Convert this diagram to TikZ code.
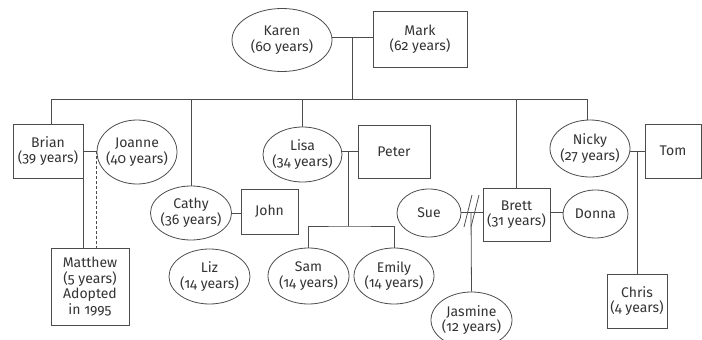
\documentclass[tikz,border=0pt]{standalone}
\usepackage{fontspec}
\setmainfont{Fira Sans}[Numbers=OldStyle]
\usetikzlibrary{shapes.geometric}
\definecolor{lc}{gray}{0.3}
\tikzset{
  person/.style={draw=lc, line width=0.8pt, align=center, text=black!80,
    font=\fontsize{14}{15.5}\selectfont},
  fem/.style={person, ellipse, inner xsep=-15pt, inner ysep=-6pt},
  male/.style={person, rectangle, inner sep=0pt},
  conn/.style={draw=lc, line width=0.8pt},
  adopt/.style={conn, dash pattern=on 3pt off 2pt}
}
\begin{document}
\begin{tikzpicture}[x=1pt,y=-1pt]
\useasboundingbox (0,0) rectangle (702,340);
\clip (0,0) rectangle (702,340);
% nodes
\node[fem,  minimum width=100pt, minimum height=63pt] (Karen)   at (282,40)    {Karen\\(60 years)};
\node[male, minimum width=94pt,  minimum height=56pt] (Mark)    at (420,39)    {Mark\\(62 years)};
\node[male, minimum width=70pt,  minimum height=54pt] (Brian)   at (48,151)    {Brian\\(39 years)};
\node[fem,  minimum width=80pt,  minimum height=64pt] (Joanne)  at (137,152)   {Joanne\\(40 years)};
\node[male, minimum width=78pt,  minimum height=77pt] (Matthew) at (90,286.5)  {Matthew\\(5 years)\\Adopted\\in 1995};
\node[fem,  minimum width=81pt,  minimum height=54pt] (Cathy)   at (191,213)   {Cathy\\(36 years)};
\node[male, minimum width=57pt,  minimum height=45pt] (John)    at (269.5,211.5) {John};
\node[fem,  minimum width=81pt,  minimum height=55pt] (Liz)     at (209.5,276.5) {Liz\\(14 years)};
\node[fem,  minimum width=79pt,  minimum height=55pt] (Lisa)    at (302.5,154.5) {Lisa\\(34 years)};
\node[male, minimum width=72pt,  minimum height=53pt] (Peter)   at (394,151.5) {Peter};
\node[fem,  minimum width=81pt,  minimum height=56pt] (Sam)     at (308.5,276) {Sam\\(14 years)};
\node[fem,  minimum width=80pt,  minimum height=56pt] (Emily)   at (394,276)   {Emily\\(14 years)};
\node[fem,  minimum width=64pt,  minimum height=48pt] (Sue)     at (429,213)   {Sue};
\node[male, minimum width=67pt,  minimum height=53pt] (Brett)   at (516.5,214.5) {Brett\\(31 years)};
\node[fem,  minimum width=65pt,  minimum height=48pt] (Donna)   at (595.5,214) {Donna};
\node[fem,  minimum width=81pt,  minimum height=56pt] (Jasmine) at (471.5,320) {Jasmine\\(12 years)};
\node[fem,  minimum width=80pt,  minimum height=57pt] (Nicky)   at (590,148.5) {Nicky\\(27 years)};
\node[male, minimum width=56pt,  minimum height=54pt] (Tom)     at (673,151)   {Tom};
\node[male, minimum width=60pt,  minimum height=54pt] (Chris)   at (637,301)   {Chris\\(4 years)};
% junction points
\coordinate (KM) at (352,37);
\coordinate (barL) at (51,99);
\coordinate (barR) at (587,99);
\coordinate (LP) at (348,151);
\coordinate (LS) at (348,226);
\coordinate (SB) at (471,212);
\coordinate (NT) at (637,151);
\coordinate (s1a) at (464,227); \coordinate (s1b) at (472,195);
\coordinate (s2a) at (471,227); \coordinate (s2b) at (479,195);
% connectors
\draw[conn] (KM -| Karen.east) -- (KM -| Mark.west);
\draw[conn] (KM) -- (KM |- barL);
\draw[conn] (barL) -- (barR);
\draw[conn] (barL) -- (barL |- Brian.north);
\draw[conn] (Cathy.north |- barL) -- (Cathy.north);
\draw[conn] (Lisa.north |- barL) -- (Lisa.north);
\draw[conn] (Brett.north |- barL) -- (Brett.north);
\draw[conn] (barR) -- (barR |- Nicky.north);
\draw[conn] (Brian.east) -- (Brian.east -| Joanne.west);
\draw[adopt] (Brian.east -| Joanne.west) -- (Joanne.west |- Matthew.north);
\draw[conn] (Brian.south east) -- (Brian.south east |- Matthew.north);
\draw[conn] (Cathy.east) -- (Cathy.east -| John.west);
\draw[conn] (LP -| Lisa.east) -- (LP -| Peter.west);
\draw[conn] (LP) -- (LS);
\draw[conn] (Sam.north) |- (LS) -| (Emily.north);
\draw[conn] (SB -| Sue.east) -- (SB -| Brett.west);
\draw[conn] (SB) -- (Jasmine.north);
\draw[conn] (s1a) -- (s1b);
\draw[conn] (s2a) -- (s2b);
\draw[conn] (SB -| Brett.east) -- (SB -| Donna.west);
\draw[conn] (NT -| Nicky.east) -- (NT -| Tom.west);
\draw[conn] (NT) -- (Chris.north);
\end{tikzpicture}
\end{document}
